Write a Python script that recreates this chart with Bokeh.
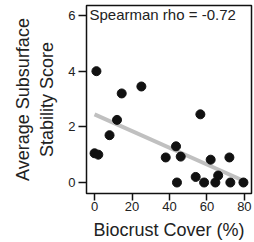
import numpy as np
from bokeh.plotting import figure
from bokeh.models import Range1d, FixedTicker, Label
from bokeh.embed import file_html
from bokeh.resources import INLINE

# Data
biocrust_cover = [1, 0, 2, 8, 12, 14.5, 25, 38, 43.5, 46, 44, 54, 56.5, 58.5, 62, 64.5, 66, 72, 72.5, 79.5]
stability_score = [4.0, 1.05, 1.0, 1.7, 2.25, 3.2, 3.45, 0.9, 1.3, 0.93, 0.0, 0.2, 2.45, 0.0, 0.82, 0.0, 0.25, 0.9, 0.0, 0.0]
x_ticks = [0, 20, 40, 60, 80]
y_ticks = [0, 2, 4, 6]
annotation = "Spearman rho = -0.72"

FONT = "Liberation Sans"
TXT = "#222222"

p = figure(width=254, height=242, output_backend="svg", toolbar_location=None,
           x_range=Range1d(-4.3, 83.8), y_range=Range1d(-0.395, 6.36),
           min_border_left=86, min_border_right=3, min_border_top=5, min_border_bottom=49)

p.xgrid.visible = False
p.ygrid.visible = False
p.outline_line_color = "#111111"
p.outline_line_width = 1.5
p.background_fill_color = "white"
p.border_fill_color = "white"

# least-squares trend line through the points
coef = np.polyfit(biocrust_cover, stability_score, 1)
fx = np.array([min(biocrust_cover), max(biocrust_cover)])
fy = np.polyval(coef, fx)
p.line(fx, fy, line_color="#c0c0c0", line_width=4)

p.scatter(biocrust_cover, stability_score, size=9, fill_color="#111111", line_color="#111111")

for ax in (p.xaxis, p.yaxis):
    ax.axis_line_color = None
    ax.major_tick_line_color = "#111111"
    ax.major_tick_line_width = 1.5
    ax.major_tick_in = 0
    ax.minor_tick_line_color = None
    ax.major_label_text_font = FONT
    ax.major_label_text_font_size = "13px"
    ax.major_label_text_color = TXT
    ax.axis_label_text_font = FONT
    ax.axis_label_text_font_size = "18px"
    ax.axis_label_text_font_style = "normal"
    ax.axis_label_text_color = TXT

p.xaxis.major_tick_out = 7
p.yaxis.major_tick_out = 8
p.xaxis.ticker = FixedTicker(ticks=x_ticks)
p.yaxis.ticker = FixedTicker(ticks=y_ticks)
p.xaxis.major_label_standoff = 1
p.yaxis.major_label_standoff = 3
p.xaxis.axis_label = "Biocrust Cover (%)"
p.yaxis.axis_label = "Average Subsurface\nStability Score"
p.xaxis.axis_label_standoff = 6
p.yaxis.axis_label_standoff = 8

p.add_layout(Label(x=-2.7, y=6.04, text=annotation, text_font=FONT, text_font_size="15px",
                   text_color=TXT, text_align="left", text_baseline="middle"))

open("out.html", "w").write(file_html(p, INLINE))
